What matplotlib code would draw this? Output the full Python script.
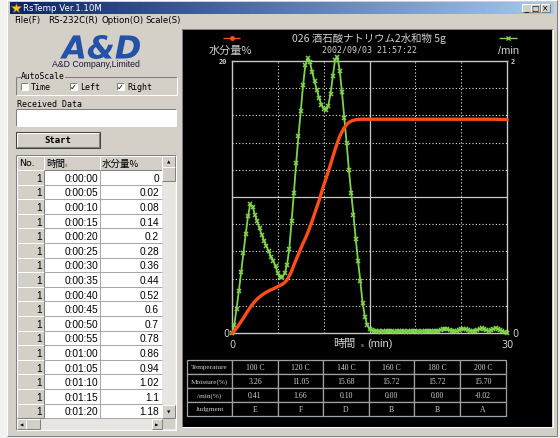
import numpy as np
import matplotlib
matplotlib.use("Agg")
import matplotlib.pyplot as plt
from matplotlib.patches import Rectangle, PathPatch
from matplotlib.textpath import TextPath
from matplotlib.font_manager import FontProperties
from matplotlib.colors import LinearSegmentedColormap
from matplotlib.transforms import Affine2D

JP = ["Noto Sans CJK JP", "DejaVu Sans"]
MONO = ["DejaVu Sans Mono"]
NARROW = ["Liberation Sans Narrow", "Liberation Sans", "DejaVu Sans"]
SERIF = ["Liberation Serif", "DejaVu Serif"]

# one sample every 15 s, in minutes
minutes = np.arange(0, 30.01, 0.25)

# moisture loss (%) on the left axis, 0-20
moisture = [
    0.00, 0.14, 0.36, 0.60, 0.86, 1.10, 1.38, 1.65,
    1.90, 2.12, 2.32, 2.50, 2.65, 2.78, 2.90, 3.00,
    3.09, 3.17, 3.25, 3.33, 3.42, 3.50, 3.58, 3.72,
    3.90, 4.20, 4.55, 5.00, 5.40, 5.80, 6.20, 6.60,
    6.95, 7.35, 7.80, 8.25, 8.75, 9.25, 9.75, 10.30,
    10.85, 11.35, 11.85, 12.40, 12.95, 13.50, 14.00, 14.45,
    14.80, 15.10, 15.32, 15.48, 15.58, 15.64, 15.68, 15.70,
    15.72, 15.72, 15.72, 15.72, 15.72, 15.72, 15.72, 15.72,
    15.72, 15.72, 15.72, 15.72, 15.72, 15.72, 15.72, 15.72,
    15.72, 15.72, 15.72, 15.72, 15.72, 15.72, 15.72, 15.72,
    15.72, 15.72, 15.72, 15.72, 15.72, 15.72, 15.72, 15.72,
    15.72, 15.72, 15.72, 15.72, 15.72, 15.72, 15.72, 15.72,
    15.72, 15.72, 15.72, 15.72, 15.72, 15.72, 15.72, 15.72,
    15.72, 15.72, 15.72, 15.72, 15.72, 15.72, 15.72, 15.72,
    15.72, 15.72, 15.72, 15.72, 15.71, 15.71, 15.70, 15.70,
    15.70,
]

# rate of change (%/min) on the right axis, 0-2
rate = [
    0.00, 0.06, 0.18, 0.31, 0.45, 0.59, 0.73, 0.86,
    0.95, 0.93, 0.87, 0.82, 0.77, 0.72, 0.68, 0.64,
    0.60, 0.56, 0.53, 0.49, 0.44, 0.41, 0.41, 0.44,
    0.50, 0.62, 0.82, 1.03, 1.25, 1.45, 1.63, 1.82,
    1.97, 2.02, 1.99, 1.92, 1.85, 1.79, 1.73, 1.68,
    1.65, 1.64, 1.67, 1.76, 1.89, 2.01, 2.03, 1.93,
    1.77, 1.58, 1.40, 1.20, 1.03, 0.87, 0.69, 0.53,
    0.38, 0.22, 0.12, 0.06, 0.03, 0.02, 0.015, 0.015,
    0.012, 0.010, 0.012, 0.015, 0.018, 0.015, 0.012, 0.010,
    0.012, 0.015, 0.014, 0.012, 0.010, 0.012, 0.016, 0.018,
    0.015, 0.012, 0.010, 0.012, 0.015, 0.017, 0.015, 0.012,
    0.012, 0.014, 0.018, 0.022, 0.028, 0.030, 0.026, 0.020,
    0.015, 0.012, 0.014, 0.020, 0.026, 0.030, 0.028, 0.022,
    0.016, 0.012, 0.015, 0.022, 0.030, 0.034, 0.030, 0.022,
    0.015, 0.020, 0.028, 0.034, 0.030, 0.020, 0.012, 0.006,
    0.000,
]

# received data list
log_no = [1, 1, 1, 1, 1, 1, 1, 1, 1, 1, 1, 1, 1, 1, 1, 1, 1]
log_time = ["0:00:00", "0:00:05", "0:00:10", "0:00:15", "0:00:20", "0:00:25",
            "0:00:30", "0:00:35", "0:00:40", "0:00:45", "0:00:50", "0:00:55",
            "0:01:00", "0:01:05", "0:01:10", "0:01:15", "0:01:20"]
log_moisture = [0, 0.02, 0.08, 0.14, 0.2, 0.28, 0.36, 0.44, 0.52, 0.6, 0.7,
                0.78, 0.86, 0.94, 1.02, 1.1, 1.18]

# judgment table under the graph
row_names = ["Temperature", "Moisture(%)", "/min(%)", "Judgment"]
temps = ["100 C", "120 C", "140 C", "160 C", "180 C", "200 C"]
moist_at = ["3.26", "11.05", "15.68", "15.72", "15.72", "15.70"]
rate_at = ["0.41", "1.66", "0.10", "0.00", "0.00", "-0.02"]
grades = ["E", "F", "D", "B", "B", "A"]

FACE = "#d4d0c8"
SHADOW = "#808080"
ORANGE = "#ff4d1a"
GREEN = "#80d44c"
LABEL = "#d0d0d0"

fig = plt.figure(figsize=(5.6, 4.39), dpi=100)
fig.patch.set_facecolor("#f2f2f2")
ui = fig.add_axes([0, 0, 1, 1])
ui.set_axis_off()


def box(x0, y0, x1, y1, fc, ec="none", lw=0.0, z=1):
    ui.add_patch(Rectangle((x0, y0), x1 - x0, y1 - y0, facecolor=fc,
                           edgecolor=ec, linewidth=lw, zorder=z))


def seg(x0, y0, x1, y1, c, lw=0.75, z=3, ls="-"):
    ui.plot([x0, x1], [y0, y1], color=c, lw=lw, ls=ls, zorder=z,
            solid_capstyle="butt")


def bevel(x0, y0, x1, y1, raised=True, z=3):
    hi, lo = ("white", SHADOW) if raised else (SHADOW, "white")
    seg(x0, y0, x1, y0, hi, z=z)
    seg(x0, y0, x0, y1, hi, z=z)
    seg(x0, y1, x1, y1, lo, z=z)
    seg(x1, y0, x1, y1, lo, z=z)


def txt(x, y, s, size=6.5, color="black", ha="left", fam=("DejaVu Sans",), **kw):
    ui.text(x, y, s, fontsize=size, color=color, ha=ha, va="center",
            family=list(fam), zorder=6, **kw)


# window frame and title bar
box(7, 1, 557, 437, FACE, z=0)
bevel(7, 1, 557, 437)
bar = LinearSegmentedColormap.from_list("bar", ["#0a246a", "#a6caf0"])
ui.imshow(np.linspace(0, 1, 256)[None, :], cmap=bar, extent=(10, 554, 14.5, 3),
          aspect="auto", zorder=2)
ui.plot([16], [8.8], marker="*", ms=7, color="#f4c430", mec="#b07000", mew=0.4, zorder=6)
txt(23, 8.8, "RsTemp Ver.1.10M", size=6.2, color="white")
for bx, glyph in [(522, "_"), (531, "□"), (541, "×")]:
    box(bx, 5, bx + 8.5, 13, FACE, z=4)
    bevel(bx, 5, bx + 8.5, 13, z=5)
    txt(bx + 4.25, 8.6, glyph, size=5.5, ha="center")

for mx, label in [(14, "File(F)"), (48, "RS-232C(R)"), (101, "Option(O)"), (145, "Scale(S)")]:
    txt(mx, 20.5, label, size=6.2)

# company logo
logo = TextPath((0, 0), "A&D", size=10,
                prop=FontProperties(family="DejaVu Sans", weight="bold", style="italic"))
ext = logo.get_extents()
place = Affine2D().translate(-ext.x0, -ext.y0).scale(80 / ext.width, -24 / ext.height).translate(60, 60)
ui.add_patch(PathPatch(place.transform_path(logo), fc="#2352a8", ec="none", zorder=4))
txt(96, 64.5, "A&D Company,Limited", size=6.3, color="#1a1a40", ha="center", fam=NARROW)

# AutoScale group
seg(16, 78, 177, 78, SHADOW); seg(16, 78, 16, 96, SHADOW)
seg(16, 96, 177, 96, "white"); seg(177, 78, 177, 96, "white")
txt(21, 76.5, "AutoScale", size=5.8, fam=MONO, bbox=dict(fc=FACE, ec="none", pad=0.3))
for cx, name, on in [(21, "Time", False), (70, "Left", True), (117, "Right", True)]:
    box(cx, 84, cx + 7, 91, "white", z=4)
    bevel(cx, 84, cx + 7, 91, raised=False, z=5)
    if on:
        txt(cx + 3.5, 87.5, "✓", size=6, ha="center", weight="bold")
    txt(cx + 10, 87.5, name, size=6, fam=MONO)

txt(17, 105, "Received Data", size=6, fam=MONO)
box(16, 110, 176, 127, "white", z=2)
bevel(16, 110, 176, 127, raised=False)

box(16, 133, 100, 149, FACE, ec="#404040", lw=0.75, z=2)
bevel(16.7, 133.7, 99.3, 148.3)
txt(58, 141, "Start", size=6.5, fam=MONO, ha="center", weight="bold")

# received data grid
box(16, 156, 176, 431, "#ebe9e4", z=1)
bevel(16, 156, 176, 431, raised=False)
hdr = [(17, 44), (44, 100), (100, 161.5)]
for x0, x1 in hdr:
    box(x0, 157, x1, 171, FACE, z=2)
    bevel(x0, 157, x1, 171, z=3)
txt(19, 164, "No.", size=6.8)
txt(46, 164, "時間", size=6.8, fam=JP)
txt(65, 165.5, "s", size=3.5, color="#505050")
txt(102, 164, "水分量%", size=6.8, fam=JP)
pitch = 14.6
for k, (n, t, m) in enumerate(zip(log_no, log_time, log_moisture)):
    y0 = 171 + k * pitch
    y1 = y0 + pitch
    box(17, y0, 44, y1, FACE, z=2)
    bevel(17, y0, 44, y1, z=3)
    box(44, y0, 161.5, y1, "white", z=2)
    seg(44, y1, 161.5, y1, "#a8a8a8", z=3)
    seg(100, y0, 100, y1, "#a8a8a8", z=3)
    yc = (y0 + y1) / 2 + 0.5
    txt(42, yc, str(n), size=7.3, ha="right", fam=NARROW)
    txt(98, yc, t, size=7.3, ha="right", fam=NARROW)
    txt(159, yc, f"{m:g}", size=7.3, ha="right", fam=NARROW)

# scroll bars
box(161.5, 157, 175, 420, "#e8e6e2", z=2)
for y0, y1, arrow in [(157, 168, "▲"), (406, 419.5, "▼")]:
    box(161.5, y0, 175, y1, FACE, z=3)
    bevel(161.5, y0, 175, y1, z=4)
    txt(168.2, (y0 + y1) / 2, arrow, size=3.2, ha="center")
box(161.5, 168, 175, 182, FACE, z=3)
bevel(161.5, 168, 175, 182, z=4)
box(17, 420, 161.5, 430.5, "#e8e6e2", z=2)
for x0, x1, arrow in [(17, 26, "◀"), (152, 161.5, "▶")]:
    box(x0, 420, x1, 430.5, FACE, z=3)
    bevel(x0, 420, x1, 430.5, z=4)
    txt((x0 + x1) / 2, 425.3, arrow, size=3.2, ha="center")
box(26, 420, 40, 430.5, FACE, z=3)
bevel(26, 420, 40, 430.5, z=4)
box(161.5, 420, 175, 430.5, FACE, z=3)

# graph panel
box(182, 30, 552, 428, "black", z=1)
bevel(181.5, 29.5, 552.5, 428.5, raised=False)

txt(369, 38, "026 酒石酸ナトリウム2水和物 5g", size=7.5, color=LABEL, ha="center", fam=JP)
txt(369, 50, "2002/09/03 21:57:22", size=6, color=LABEL, ha="center", fam=MONO)
seg(223, 39, 240, 39, ORANGE, lw=1.0, z=6)
ui.plot([231.5], [39], marker="o", ms=2.5, color=ORANGE, zorder=7)
txt(230, 51, "水分量%", size=8, color=LABEL, ha="center", fam=JP)
seg(499, 39, 517, 39, GREEN, lw=1.0, z=6)
ui.plot([508], [39], marker="x", ms=2.8, mew=0.9, color=GREEN, zorder=7)
txt(509, 50.5, "/min", size=8, color=LABEL, ha="center", fam=NARROW)
txt(223, 61.5, "20", size=5, color=LABEL, ha="center", fam=MONO, weight="bold")
txt(513, 61.5, "2", size=5, color=LABEL, ha="center", fam=MONO, weight="bold")
txt(226, 334, "0", size=7, color=LABEL, ha="center")
txt(515, 334, "0", size=7, color=LABEL, ha="center")
txt(232, 345, "0", size=7, color=LABEL, ha="center")
txt(507, 345, "30", size=7, color=LABEL, ha="center")
txt(355, 344, "時間", size=8, color=LABEL, ha="right", fam=JP)
txt(362, 345.5, "s", size=4, color=LABEL, ha="center")
txt(367, 344, "(min)", size=8, color=LABEL, fam=NARROW)

# judgment table
cols = [187, 232, 278, 323, 369, 414, 460, 506]
rows = [361, 375, 389, 403, 417]
cells = [[row_names[0]] + temps, [row_names[1]] + moist_at,
         [row_names[2]] + rate_at, [row_names[3]] + grades]
for r, line in enumerate(cells):
    for c, value in enumerate(line):
        box(cols[c], rows[r], cols[c + 1], rows[r + 1], "black", ec="#a0a0a0", lw=0.9, z=3)
        txt((cols[c] + cols[c + 1]) / 2, (rows[r] + rows[r + 1]) / 2, value,
            size=5.6 if c else 5.2, color=LABEL, ha="center", fam=SERIF)

ui.set_xlim(0, 560)
ui.set_ylim(439, 0)

# drying curves
ax = fig.add_axes([232 / 560, (439 - 334) / 439, 275 / 560, 272 / 439])
ax.set_facecolor("black")
ax.set_xlim(0, 30)
ax.set_ylim(0, 2)
for gx in [5, 10, 20, 25]:
    ax.axvline(gx, color="#e6e6e6", lw=0.8, ls=(0, (1, 2)), zorder=1)
for gy in [0.2, 0.4, 0.6, 0.8, 1.2, 1.4, 1.6, 1.8]:
    ax.axhline(gy, color="#e6e6e6", lw=0.8, ls=(0, (1, 2)), zorder=1)
ax.axvline(15, color="#c8c8c8", lw=0.9, zorder=1)
ax.axhline(1.0, color="#c8c8c8", lw=0.9, zorder=1)
for s in ax.spines.values():
    s.set_color("#c8c8c8")
    s.set_linewidth(1.0)
ax.set_xticks([])
ax.set_yticks([])
ax.plot(minutes, rate, color=GREEN, lw=1.3, marker="x", ms=3.2, mew=1.1,
        clip_on=False, zorder=3)

ax2 = ax.twinx()
ax2.set_ylim(0, 20)
ax2.set_yticks([])
for s in ax2.spines.values():
    s.set_visible(False)
ax2.plot(minutes, moisture, color=ORANGE, lw=2.4, clip_on=False,
         solid_capstyle="round", zorder=4)

fig.savefig("out.png", dpi=100, facecolor=fig.get_facecolor())
